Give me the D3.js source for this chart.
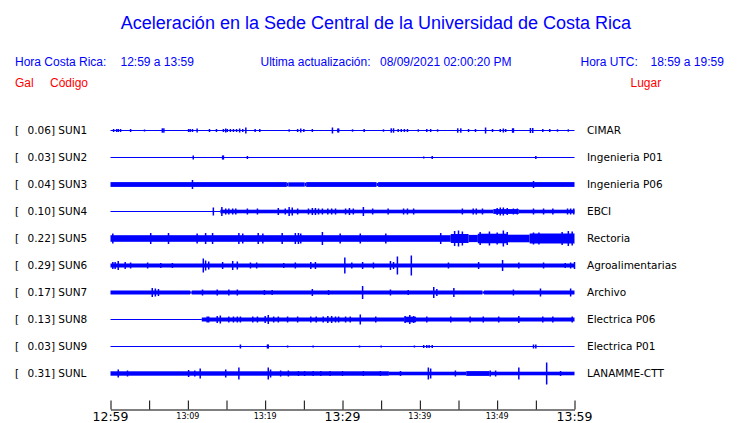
<!DOCTYPE html>
<html><head><meta charset="utf-8">
<script src="https://cdn.jsdelivr.net/npm/d3@7"></script>
<style>body{margin:0;background:#fff}svg{display:block}</style>
</head><body><svg id="c" width="740" height="423"></svg>
<script>
// ---- data ----
const codes  = ["SUN1","SUN2","SUN3","SUN4","SUN5","SUN6","SUN7","SUN8","SUN9","SUNL"];
const places = ["CIMAR","Ingenieria P01","Ingenieria P06","EBCI","Rectoria","Agroalimentarias","Archivo","Electrica P06","Electrica P01","LANAMME-CTT"];
const gals   = ["0.06","0.03","0.04","0.10","0.22","0.29","0.17","0.13","0.03","0.31"];
// envelope segments per station: [start minute, end minute, half amplitude]
const segments = [
  [[0,60,0.5]],
  [[0,60,0.5]],
  [[0,22.8,2.4],[22.8,23.0,1.8],[23.0,25.1,2.2],[25.1,25.3,1.8],[25.3,34.4,2.4],[34.4,34.6,1.6],[34.6,60,2.4]],
  [[0,14.2,0.5],[14.2,49.5,1.8],[49.5,52.8,2.4],[52.8,60,1.8]],
  [[0,44,3.3],[44,46.3,4.5],[46.3,47.5,3.6],[47.5,51.3,4.8],[51.3,54.2,3.8],[54.2,60,5]],
  [[0,60,2]],
  [[0,10.3,2],[10.3,10.5,1.2],[10.5,48.1,2],[48.1,48.3,1.2],[48.3,60,2]],
  [[0,11.8,0.5],[11.8,38,2],[38,39.5,2.8],[39.5,60,2]],
  [[0,60,0.5]],
  [[0,36,2.2],[36,46,1.8],[46,49,2.4],[49,60,1.8]]
];
// bursts per station: [minute, half amplitude]
const spikes = [
  [[0.4,1.5],[0.8,1.5],[1.0,1.5],[1.3,1.5],[2.6,1.5],[4.4,1],[6.7,2.2],[6.9,2.2],[10.1,1.5],[10.3,1.5],[10.6,1.5],[11.2,2],[12.8,1.5],[13.7,1.5],[14.6,1.5],[14.9,2],[15.1,1.5],[15.5,1.5],[15.9,1.5],[16.3,1.5],[16.7,2],[17.1,1.5],[17.5,3],[18.7,1.5],[19.3,1.5],[23.1,1.2],[24.2,1.5],[24.6,2],[25.0,1.5],[26.1,1.5],[28.7,3],[29.4,2],[29.5,2],[31.3,1.2],[32.8,1.5],[35.3,1.2],[36.3,2.2],[36.6,2.2],[37.2,1.5],[37.6,1.5],[38.0,1.5],[38.4,1.5],[39.8,1.2],[40.9,1.5],[41.4,1.5],[42.3,1.2],[44.9,2.2],[45.3,2.2],[46.3,1.5],[47.2,1.5],[48.5,3],[49.4,1.5],[50.4,1.5],[50.8,2],[51.1,1.5],[52.0,2.2],[52.1,2.2],[54.3,2.5],[54.6,2.5],[55.9,1.5],[56.8,1.5],[57.8,1.2],[59.2,1.2]],
  [[10.7,2],[14.5,2],[14.6,2],[17.7,1.5],[40.5,1],[41.6,1.5],[55.0,1.5]],
  [[10.6,4.5],[54.7,3.5]],
  [[13.3,4],[14.4,4.5],[14.9,3],[15.3,3],[15.8,3],[16.2,3],[17.7,3],[19.0,3],[21.7,3.5],[22.6,3],[23.1,4.5],[23.5,4],[24.2,3],[25.6,3],[26.1,3.5],[26.5,3.5],[26.9,3],[27.4,3],[28.1,3],[28.6,3],[29.1,3],[30.4,3],[30.9,3.5],[31.4,3],[32.7,4.5],[33.9,3],[35.9,3],[37.9,3],[38.4,3],[39.2,3],[45.5,3],[46.9,3],[47.3,3],[48.1,3],[50.0,3.5],[50.4,4],[50.8,4],[51.3,3.5],[52.1,3],[52.6,3],[54.7,3],[56.0,3],[57.2,3],[59.1,3],[59.5,3],[59.9,3]],
  [[0.3,5],[5.2,5.5],[7.5,5.5],[11.2,5],[12.3,5.5],[13.2,5.5],[16.6,5.5],[17.1,5],[19.1,5.5],[19.7,5],[22.2,5.5],[23.9,5.5],[24.3,5.5],[24.6,5],[27.4,6.5],[29.7,5],[32.3,5],[35.6,5],[42.7,5.5],[44.5,7.5],[45.0,8],[45.5,7],[47.8,6.5],[49.0,7],[50.0,6],[50.8,8],[51.3,6.5],[54.7,6],[55.4,6],[58.4,6.5],[59.2,7.5],[59.7,7]],
  [[0.3,3.5],[0.6,3.5],[1.0,4.5],[1.9,3.5],[2.6,3],[4.8,3],[6.5,2.5],[8.0,2.5],[12.0,7],[12.3,5],[12.7,4],[14.5,3.5],[15.8,4.5],[16.4,4],[18.1,3],[18.9,3],[22.4,2.5],[23.9,3],[25.9,3.5],[26.5,3.5],[30.3,8],[31.2,3],[32.6,3.5],[34.0,3],[36.2,4.5],[36.6,3.5],[37.1,9],[38.9,10],[43.7,3],[47.6,3.5],[50.7,5.5],[52.8,3],[56.0,3],[58.8,2.5],[59.5,3],[60.0,3.5]],
  [[5.4,4.5],[5.8,4],[6.2,3.5],[11.9,3],[13.8,3],[15.3,3],[16.4,3],[19.9,2.5],[20.9,2.5],[26.1,3.5],[28.2,2.5],[32.6,6.5],[36.2,3],[38.5,2.5],[41.8,5.5],[42.2,3.5],[44.4,4.5],[52.1,3],[55.6,4],[59.5,4]],
  [[12.5,3],[12.7,3],[13.8,3.5],[14.2,4],[15.3,3],[15.9,3],[16.4,3],[16.8,3],[18.4,3],[19.0,3],[20.0,3.5],[20.4,4.5],[21.1,3],[21.7,3],[22.9,3],[24.2,3],[25.9,3],[26.6,3],[27.5,3],[28.1,3.5],[28.6,3.5],[29.1,3],[29.5,3],[30.4,3],[31.0,3],[32.3,5],[34.3,3],[38.1,3.5],[38.7,4.5],[39.2,3.5],[40.9,3],[44.0,3],[46.5,3],[48.2,3],[50.2,3],[52.8,3.5],[55.9,3],[57.2,3],[59.7,3]],
  [[16.8,2],[20.3,2],[20.4,2],[22.9,1],[26.2,1],[32.2,1],[35.0,1],[39.3,1],[40.5,1.5],[40.9,1.5],[41.2,1.5],[41.6,1.5],[54.7,2],[55.0,2]],
  [[1.0,4],[2.2,3],[10.1,3.5],[10.9,3],[11.6,5],[14.9,4],[16.6,6],[20.4,6],[20.7,4],[22.0,3],[23.0,3],[24.3,2.5],[25.1,2.5],[26.2,2.5],[27.2,2.5],[28.4,2.5],[30.0,2.5],[32.7,2.5],[34.9,2.5],[37.5,2.5],[41.1,6],[41.4,5],[44.6,3],[49.1,3],[49.8,3],[52.8,6],[56.4,11],[58.2,2.5]]
];
const tickMinutes = [0,5,10,15,20,25,30,35,40,45,50,55,60];
const tickLabels  = ["12:59","","13:09","","13:19","","13:29","","13:39","","13:49","","13:59"];
const majorLabels = ["12:59","13:29","13:59"];

// ---- drawing ----
const svg = d3.select("#c");
const blue = "#0000ff", red = "#ff0000";
const x = d3.scaleLinear().domain([0,60]).range([110.5,574.5]);
const y = d3.scalePoint().domain(codes).range([130.5,373.5]);
const amp = d3.scaleLinear().domain([0,10]).range([0,10]);

svg.append("text").attr("x",376).attr("y",29).attr("text-anchor","middle")
  .attr("font-family","Liberation Sans, Arial, sans-serif").attr("font-size",18).attr("fill",blue)
  .text("Aceleración en la Sede Central de la Universidad de Costa Rica");

const hdr = [
  [15,66,"Hora Costa Rica:",blue],[120.5,66,"12:59 a 13:59",blue],
  [260.5,66,"Ultima actualización:",blue],[380,66,"08/09/2021 02:00:20 PM",blue],
  [580.5,66,"Hora UTC:",blue],[650.5,66,"18:59 a 19:59",blue],
  [15,87,"Gal",red],[50,87,"Código",red],[630.5,87,"Lugar",red]
];
svg.selectAll("text.hdr").data(hdr).join("text").attr("class","hdr")
  .attr("x",d=>d[0]).attr("y",d=>d[1]).attr("fill",d=>d[3])
  .attr("font-family","Liberation Sans, Arial, sans-serif").attr("font-size",12)
  .text(d=>d[2]);

const rows = svg.selectAll("g.row").data(codes).join("g").attr("class","row");
rows.each(function(code,i){
  const g = d3.select(this);
  const y0 = y(code);
  g.append("text").attr("x",15).attr("y",y0+3.5).attr("font-family","DejaVu Sans, sans-serif")
    .attr("font-size",10.5).attr("fill","#000").text("[");
  g.append("text").attr("x",27.5).attr("y",y0+3.5).attr("font-family","DejaVu Sans, sans-serif")
    .attr("font-size",10.5).attr("fill","#000").text(gals[i]+"] "+code);
  g.append("text").attr("x",587).attr("y",y0+3.5).attr("font-family","DejaVu Sans, sans-serif")
    .attr("font-size",10.5).attr("fill","#000").text(places[i]);
  g.selectAll("rect.seg").data(segments[i]).join("rect").attr("class","seg")
    .attr("x",d=>x(d[0])).attr("width",d=>x(d[1])-x(d[0]))
    .attr("y",d=>y0-amp(d[2])).attr("height",d=>2*amp(d[2])).attr("fill",blue);
  g.selectAll("rect.sp").data(spikes[i]).join("rect").attr("class","sp")
    .attr("x",d=>x(d[0])-0.75).attr("width",1.5)
    .attr("y",d=>y0-amp(d[1])).attr("height",d=>2*amp(d[1])).attr("fill",blue);
});

const axis = d3.axisTop(x).tickValues(tickMinutes).tickSize(9).tickSizeOuter(0).tickFormat("");
const ag = svg.append("g").attr("transform","translate(0,409.5)").call(axis);
ag.select(".domain").attr("stroke","#000");
ag.selectAll(".tick line").attr("stroke","#000");

svg.selectAll("text.tl").data(tickMinutes.map((m,i)=>[m,tickLabels[i]]).filter(d=>d[1]!==""))
  .join("text").attr("class","tl")
  .attr("x",d=>x(d[0])).attr("text-anchor","middle")
  .attr("y",d=>majorLabels.includes(d[1])?421:418.5)
  .attr("font-family","DejaVu Sans, sans-serif")
  .attr("font-size",d=>majorLabels.includes(d[1])?12.5:8)
  .attr("fill","#000").text(d=>d[1]);
</script></body></html>
